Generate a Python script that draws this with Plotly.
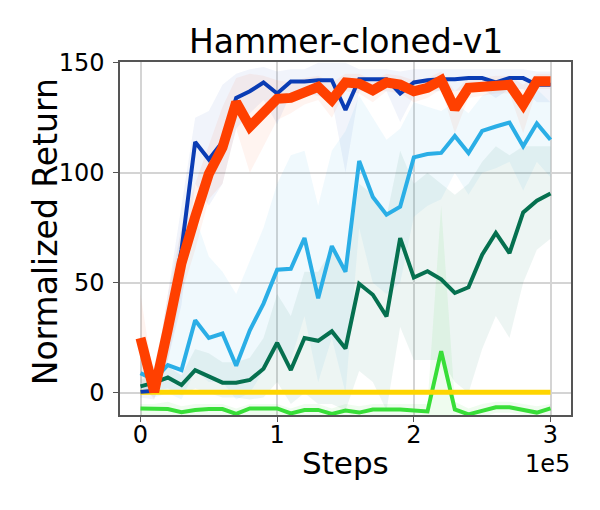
import plotly.graph_objects as go

# environment steps (x axis shown in units of 1e5)
steps = [0, 10000, 20000, 30000, 40000, 50000, 60000, 70000, 80000, 90000,
         100000, 110000, 120000, 130000, 140000, 150000, 160000, 170000, 180000, 190000,
         200000, 210000, 220000, 230000, 240000, 250000, 260000, 270000, 280000, 290000,
         300000]

# mean normalized return per method, plus lower / upper band
blue_mean = [0.5, 1, 32, 65, 114, 106, 114, 134, 137, 141, 136, 141.5, 141.5, 142, 142, 128.5,
             142.5, 142.5, 142.5, 136, 141, 142, 142.5, 142.5, 143, 143, 141, 143, 143, 140, 140]
blue_lo = [-2, -3, 15, 40, 95, 85, 95, 120, 127, 133, 122, 136, 136, 135, 133, 100,
           137, 137, 137, 123, 135, 137, 137, 137, 138, 138, 134, 138, 138, 132, 132]
blue_hi = [3, 5, 45, 85, 125, 128, 140, 145, 147, 148, 146, 147, 147, 150, 150, 150,
           147, 147, 147, 146, 147, 147, 147, 147, 147, 147, 147, 147, 147, 146, 146]

orange_mean = [25, 0.5, 29, 59, 80, 99.5, 111.5, 132, 121, 128, 133.6, 134, 137, 139, 133, 141,
               140.5, 137.4, 141, 140, 137, 138.6, 142, 129, 138.6, 139, 140, 140, 131, 141.6, 141.6]
orange_lo = [5, -3, 15, 45, 65, 88, 95, 120, 100, 112, 124, 127, 131, 133, 125, 137,
             136, 132, 137, 136, 132, 134, 138, 118, 134, 135, 136, 136, 118, 138, 138]
orange_hi = [45, 5, 45, 75, 95, 112, 130, 143, 145, 144, 142, 141, 143, 144, 141, 145,
             145, 142, 145, 144, 142, 143, 146, 137, 143, 143, 144, 144, 140, 145, 145]

light_mean = [9, 6, 12.7, 10.4, 33, 25, 27, 12.4, 28.5, 40.6, 56, 56.4, 70.4, 43, 66.7, 55,
              105.4, 89, 81, 84.6, 107, 108.5, 109, 116.7, 109, 119, 121, 122.8, 112, 122.4, 115]
light_lo = [3, -2, 0, -3, 10, 5, 5, -3, 0, 10, 20, 15, 35, 5, 25, 0,
            75, 50, 45, 50, 80, 85, 88, 100, 90, 100, 102, 105, 92, 105, 98]
light_hi = [15, 12, 40, 75, 80, 62, 55, 45, 60, 75, 95, 108, 110, 85, 110, 119,
            135, 125, 115, 120, 132, 130, 128, 132, 127, 135, 138, 138, 130, 138, 132]

teal_mean = [3, 4.7, 7, 3.6, 10.4, 7.4, 4.7, 4.7, 5.9, 11, 22.8, 10.4, 25, 23.7, 28, 20.2,
             49.6, 44.6, 34.8, 70.3, 52.4, 55.3, 51.6, 45.4, 48, 62.8, 72.7, 63.5, 82, 87.3, 90.6]
teal_lo = [0, 1, 2, -1, 2, 0, -2, -2, -3, -2, 5, -5, 0, -5, -5, -8,
           10, 5, -8, 30, 15, 15, 15, 5, 0, 20, 35, 25, 50, 65, 70]
teal_hi = [6, 8, 12, 8, 20, 18, 14, 14, 16, 25, 45, 35, 55, 55, 65, 55,
           95, 90, 80, 110, 95, 100, 95, 90, 95, 105, 112, 108, 112, 112, 112]

yellow_mean = [0.3, 0.3, 0.3, 0.3, 0.3, 0.3, 0.3, 0.3, 0.3, 0.3, 0.3, 0.3, 0.3, 0.3, 0.3, 0.3,
               0.3, 0.3, 0.3, 0.3, 0.3, 0.3, 0.3, 0.3, 0.3, 0.3, 0.3, 0.3, 0.3, 0.3, 0.3]

lime_mean = [-7, -7, -7.3, -8.7, -7.7, -7.3, -7.3, -9.5, -7, -7, -7, -9.3, -7.7, -7.7, -9.5, -8,
             -8.9, -7.5, -7.3, -7.5, -8, -8.4, 19, -7.5, -9.7, -8, -6.5, -6.5, -7.5, -8.9, -7]
lime_lo = [-10, -10, -10, -11, -10, -10, -10, -12, -10, -10, -10, -12, -10, -10, -12, -11,
           -12, -10, -10, -10, -11, -12, -10, -10, -12, -11, -9, -9, -10, -12, -10]
lime_hi = [-5, -5, -4, -6, -5, -5, -5, -7, -5, -5, -5, -7, -5, -5, -7, -5,
           -6, -5, -5, -5, -5, -5, 85, -4, -7, -5, -4, -4, -5, -6, -5]

series = [
    # (mean, lo, hi, colour, band colour, width)
    (lime_mean, lime_lo, lime_hi, '#38de38', 'rgba(56,222,56,0.08)', 4),
    (yellow_mean, None, None, '#ffd500', None, 5),
    (teal_mean, teal_lo, teal_hi, '#05704f', 'rgba(5,112,79,0.07)', 4),
    (light_mean, light_lo, light_hi, '#2aaee6', 'rgba(42,174,230,0.07)', 4),
    (blue_mean, blue_lo, blue_hi, '#0a3cb4', 'rgba(10,60,180,0.06)', 4),
    (orange_mean, orange_lo, orange_hi, '#ff4000', 'rgba(255,64,0,0.06)', 10),
]

fig = go.Figure()

# shaded bands first
for mean, lo, hi, col, band, w in series:
    if lo is None:
        continue
    fig.add_trace(go.Scatter(x=steps, y=lo, mode='lines', line=dict(width=0),
                             hoverinfo='skip', showlegend=False))
    fig.add_trace(go.Scatter(x=steps, y=hi, mode='lines', line=dict(width=0),
                             fill='tonexty', fillcolor=band,
                             hoverinfo='skip', showlegend=False))

for mean, lo, hi, col, band, w in series:
    fig.add_trace(go.Scatter(x=steps, y=mean, mode='lines',
                             line=dict(color=col, width=w), showlegend=False))

axis_style = dict(showgrid=True, gridcolor='#d4d4d4', gridwidth=1.5,
                  showline=True, linecolor='#555555', linewidth=1.5, mirror=True,
                  ticks='outside', ticklen=5, tickcolor='#555555', zeroline=False,
                  automargin=False, tickfont=dict(size=24, color='black'))

# page body has an 8px margin, so the figure is a bit smaller than the window
fig.update_layout(
    width=592, height=502,
    margin=dict(l=112, r=29, t=54, b=95),
    paper_bgcolor='white', plot_bgcolor='white',
    font=dict(family='DejaVu Sans', color='black'),
    xaxis=dict(range=[-15000, 315000], tickvals=[0, 100000, 200000, 300000],
               ticktext=['0', '1', '2', '3'], ticklabelstandoff=-8, **axis_style),
    yaxis=dict(range=[-10, 150.3], tickvals=[0, 50, 100, 150],
               ticklabelstandoff=4, **axis_style),
    annotations=[
        dict(text='Hammer-cloned-v1', xref='paper', yref='paper', x=0.501, y=1.057,
             xanchor='center', yanchor='middle', showarrow=False, font=dict(size=33)),
        dict(text='Normalized Return', xref='paper', yref='paper', x=-0.166, y=0.518,
             xanchor='center', yanchor='middle', textangle=-90, showarrow=False,
             font=dict(size=33)),
        dict(text='Steps', xref='paper', yref='paper', x=0.501, y=-0.136,
             xanchor='center', yanchor='middle', showarrow=False, font=dict(size=31)),
        dict(text='1e5', xref='paper', yref='paper', x=1.002, y=-0.139,
             xanchor='right', yanchor='middle', showarrow=False, font=dict(size=24)),
    ],
)

fig.write_html("out.html")
